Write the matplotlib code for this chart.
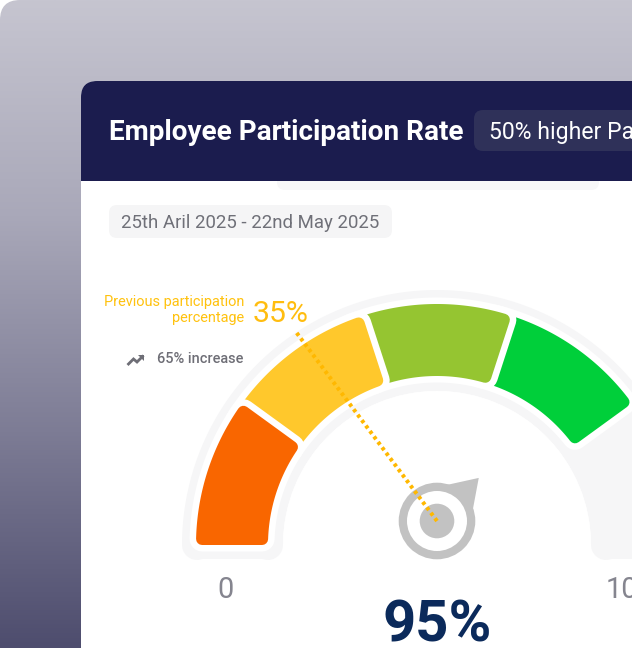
import numpy as np
import matplotlib
matplotlib.use("Agg")
import matplotlib.pyplot as plt
from matplotlib.patches import FancyBboxPatch, Polygon, Circle
from matplotlib.colors import LinearSegmentedColormap

# ---- data ----
title = "Employee Participation Rate"
badge = "50% higher Participation"
date_range = "25th Aril 2025 - 22nd May 2025"
prev_label = ["Previous participation", "percentage"]
prev_value = "35%"
increase = "65% increase"
range_labels = ["0", "100"]
big_value = "95%"
segment_edges = [0, 20, 40, 60, 80]
segment_colors = ["#f96600", "#ffc82c", "#95c531", "#00cf3a"]
needle_value = 74.5
previous_marker_value = 29.6
trend_x = [0, 5, 8.5, 14]
trend_y = [0, -5, -2, -7.5]

plt.rcParams["font.family"] = ["Roboto", "DejaVu Sans"]
W, H = 632, 648
fig = plt.figure(figsize=(W / 100, H / 100), dpi=100, facecolor="white")
ax = fig.add_axes([0, 0, 1, 1])
ax.set_xlim(0, W)
ax.set_ylim(H, 0)
ax.axis("off")
PX = 72 / 100  # points per pixel


def fs(px):
    return px * PX


def box(x0, y0, x1, y1, r, color, z):
    p = FancyBboxPatch((x0, y0), x1 - x0, y1 - y0,
                       boxstyle=f"round,pad=0,rounding_size={r}",
                       fc=color, ec="none", zorder=z)
    ax.add_patch(p)
    return p


# background panel with gradient
cmap = LinearSegmentedColormap.from_list("bg", ["#c6c5d0", "#a9a8b9", "#7d7c95", "#4e4d6e"])
panel = box(0, 0, W + 60, H + 60, 20, "none", 0)
im = ax.imshow(np.linspace(0, 1, 256)[:, None], extent=(0, W, H, 0), aspect="auto",
               cmap=cmap, zorder=0.5)
im.set_clip_path(panel)
ax.set_xlim(0, W)
ax.set_ylim(H, 0)

# card
box(81, 81, W + 60, H + 60, 16, "#ffffff", 1)
box(81, 81, W + 60, 260, 16, "#1b1c4e", 1.1)
ax.add_patch(plt.Rectangle((81, 181), W, H, fc="white", ec="none", zorder=1.2))
box(277, 170, 599, 190, 8, "#f7f7f8", 1.3)
ax.add_patch(plt.Rectangle((81, 170), W, 11, fc="#1b1c4e", ec="none", zorder=1.4))

# header texts
box(474, 110, W + 60, 151, 9, "#2f3159", 2)
ax.text(109, 129.5, title, color="white", fontsize=fs(27.95), fontweight="bold", va="center_baseline", zorder=3)
ax.text(489, 129.5, badge, color="white", fontsize=fs(23), va="center_baseline", zorder=3)

# date pill
box(109, 205, 392, 238, 8, "#f5f5f6", 2)
ax.text(121, 221.5, date_range, color="#6f7078", fontsize=fs(18.7), va="center_baseline", zorder=3)

# gauge geometry
CX, CY = 437, 545
R_OUT, R_IN = 241, 169
TRK_OUT, TRK_IN = 255, 154
CORNER = 6
HALO = 6.5


def ang(v):
    return np.radians(180 * (1 - v / 100))


def sector(v0, v1, r0, r1, inset, v0_extend=0.0):
    """Annular sector path inset by `inset` px on all sides."""
    ri, ro = r0 + inset, r1 - inset
    a0 = ang(v0 - v0_extend)
    a1 = ang(v1)

    def edge_angle(a, rho, sign):
        return a + sign * np.arcsin(inset / rho)
    ao0, ao1 = edge_angle(a0, ro, -1), edge_angle(a1, ro, 1)
    ai0, ai1 = edge_angle(a0, ri, -1), edge_angle(a1, ri, 1)
    t_o = np.linspace(ao0, ao1, 80)
    t_i = np.linspace(ai1, ai0, 80)
    xs = np.r_[CX + ro * np.cos(t_o), CX + ri * np.cos(t_i)]
    ys = np.r_[CY - ro * np.sin(t_o), CY - ri * np.sin(t_i)]
    return np.c_[xs, ys]


def stroke_poly(pts, color, lw_px, z):
    ax.add_patch(Polygon(pts, closed=True, fc=color, ec=color, lw=lw_px * PX,
                         joinstyle="round", zorder=z))


# track, rounded at its flat ends
trk_r = 15
t = np.linspace(np.pi, 0, 200)
ro, ri = TRK_OUT - trk_r, TRK_IN + trk_r
foot = CY + 14 - trk_r
trk = np.r_[np.c_[CX + ro * np.cos(t), CY - ro * np.sin(t)],
            [[CX + ro, foot], [CX + ri, foot]],
            np.c_[CX + ri * np.cos(t[::-1]), CY - ri * np.sin(t[::-1])],
            [[CX - ri, foot], [CX - ro, foot]]]
stroke_poly(trk, "#f6f6f7", trk_r * 2, 2)
# white inner part of the arch
ax.add_patch(Circle((CX, CY), TRK_IN, fc="white", ec="none", zorder=2.1))
ax.add_patch(plt.Rectangle((CX - TRK_IN + 15, CY), 2 * TRK_IN - 30, 14, fc="white", ec="none", zorder=2.1))

# coloured segments, last one lowest so that each halo cuts the next one
n = len(segment_colors)
for i in range(n - 1, -1, -1):
    v0, v1 = segment_edges[i], segment_edges[i + 1]
    ext = 0 if i == 0 else 3
    pts = sector(v0, v1, R_IN, R_OUT, CORNER, v0_extend=ext)
    z = 3 + (n - i) * 0.1
    stroke_poly(pts, "white", 2 * (CORNER + HALO), z)
    stroke_poly(pts, segment_colors[i], 2 * CORNER, z + 0.01)

# needle
NX, NY = 437, 521
GREY = "#c2c2c2"
a = ang(needle_value)
ux, uy = np.cos(a), -np.sin(a)
tip_len = 60
spread = np.radians(30)
tip = (NX + tip_len * ux, NY + tip_len * uy)
b1 = (NX + 37 * np.cos(a + spread), NY - 37 * np.sin(a + spread))
b2 = (NX + 37 * np.cos(a - spread), NY - 37 * np.sin(a - spread))
ax.add_patch(Polygon([tip, b1, (NX, NY), b2], closed=True, fc=GREY, ec="none", zorder=4))
ax.add_patch(Circle((NX, NY), 38.3, fc=GREY, ec="none", zorder=4.1))
ax.add_patch(Circle((NX, NY), 30, fc="white", ec="none", zorder=4.2))
ax.add_patch(Circle((NX, NY), 17.3, fc=GREY, ec="none", zorder=4.3))

# previous-value dotted line
pa = ang(previous_marker_value)
LEN = 235
ax.plot([NX, NX + LEN * np.cos(pa)], [NY, NY - LEN * np.sin(pa)], color="#ffb800", lw=4 * PX,
        linestyle=(0, (0.85, 0.85)), dash_capstyle="butt", zorder=5)

# labels
ax.text(244, 300.5, prev_label[0], color="#ffc20e", fontsize=fs(14.5), ha="right", va="center_baseline", zorder=6)
ax.text(244, 316.5, prev_label[1], color="#ffc20e", fontsize=fs(14.5), ha="right", va="center_baseline", zorder=6)
ax.text(253, 311.5, prev_value, color="#ffbd10", fontsize=fs(30.2), va="center_baseline", zorder=6)
ax.text(243, 357.5, increase, color="#6e6e76", fontsize=fs(14.5), fontweight="medium", ha="right", va="center_baseline", zorder=6)
ax.plot(128.5 + np.array(trend_x), 364 + np.array(trend_y), color="#6e6e76", lw=2.8 * PX, zorder=6,
        solid_joinstyle="miter")
ax.add_patch(Polygon([(138, 355), (144, 355), (144, 361)], closed=True, fc="#6e6e76", ec="none", zorder=6))

ax.text(225.5, 587, range_labels[0], color="#85858f", fontsize=fs(29), ha="center", va="center_baseline", zorder=6)
ax.text(606, 587, range_labels[1], color="#85858f", fontsize=fs(29), ha="left", va="center_baseline", zorder=6)
ax.text(437, 620, big_value, color="#0b2a5b", fontsize=fs(58), fontweight="bold", ha="center", va="center_baseline", zorder=6)

fig.savefig("out.png", dpi=100, facecolor="white")
